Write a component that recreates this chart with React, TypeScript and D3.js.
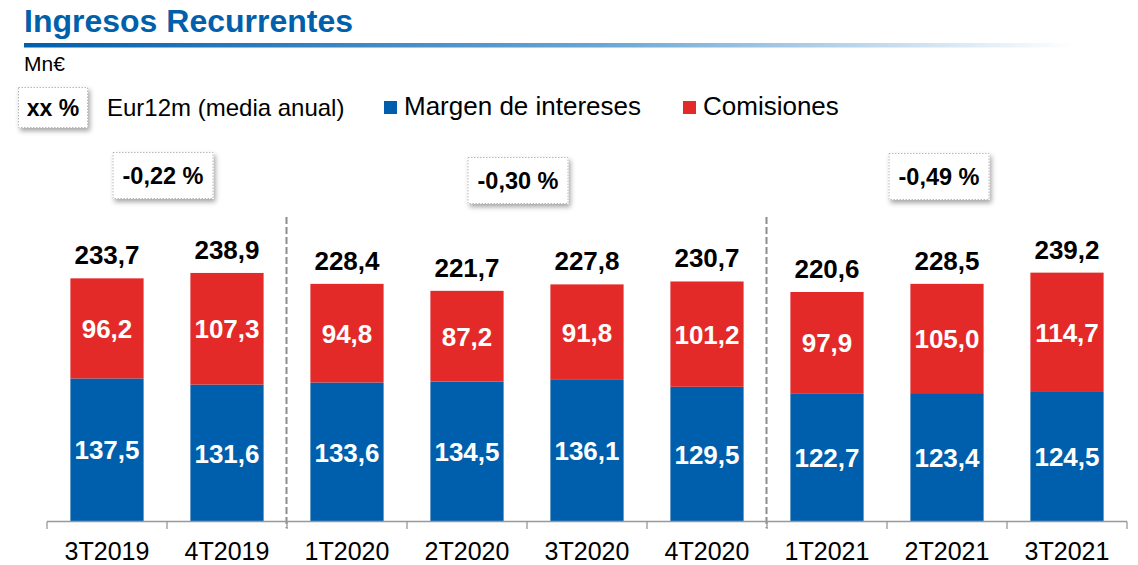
import React from "react";
import * as d3 from "d3";

const categories = ["3T2019", "4T2019", "1T2020", "2T2020", "3T2020", "4T2020", "1T2021", "2T2021", "3T2021"];
const margen = [137.5, 131.6, 133.6, 134.5, 136.1, 129.5, 122.7, 123.4, 124.5];
const comisiones = [96.2, 107.3, 94.8, 87.2, 91.8, 101.2, 97.9, 105.0, 114.7];
const totales = [233.7, 238.9, 228.4, 221.7, 227.8, 230.7, 220.6, 228.5, 239.2];
const euriborLabels = ["-0,22 %", "-0,30 %", "-0,49 %"];
const euriborFrom = ["3T2019", "1T2020", "1T2021"];
const euriborTo = ["4T2019", "4T2020", "3T2021"];
const separatorsBefore = ["1T2020", "1T2021"];

const W = 1138;
const H = 565;
const BLUE = "#005FAD";
const RED = "#E32A28";
const FONT = "'Liberation Sans', Arial, Helvetica, sans-serif";
const fmt = (v: number) => v.toFixed(1).replace(".", ",");

export default function App() {
  const x = d3.scaleBand<string>().domain(categories).range([47, 1127]).paddingInner(0.39).paddingOuter(0.195);
  const step = x.step();
  const y = d3.scaleLinear().domain([0, 250]).range([521.5, 521.5 - 260.1]);
  const edge = (c: string) => (x(c) as number) - (step - x.bandwidth()) / 2;
  const boxOffsetsX = [-4, -9, -8];
  const boxTops = [152, 157, 153];

  return (
    <svg width={W} height={H} style={{ position: "absolute", left: 0, top: 0, background: "#fff" }} fontFamily={FONT}>
      <defs>
        <linearGradient id="uline" x1="0" x2="1" y1="0" y2="0">
          <stop offset="0" stopColor="#005FAD" />
          <stop offset="0.55" stopColor="#6aa6d5" />
          <stop offset="1" stopColor="#ffffff" />
        </linearGradient>
        <filter id="shadow" x="-20%" y="-20%" width="150%" height="160%">
          <feDropShadow dx="2" dy="3" stdDeviation="2.5" floodColor="#000" floodOpacity="0.35" />
        </filter>
      </defs>

      <text x={24} y={32} fontSize={32} fontWeight="bold" fill="#0060AA">Ingresos Recurrentes</text>
      <rect x={24} y={43} width={1050} height={4.5} fill="url(#uline)" />
      <text x={24} y={71} fontSize={21} fill="#000">Mn€</text>

      {/* legend */}
      <rect x={18} y={87} width={70} height={41} fill="#fff" filter="url(#shadow)" />
      <rect x={18.5} y={87.5} width={69} height={40} fill="#fff" stroke="#b8b8b8" strokeDasharray="1.5,1.5" />
      <text x={53} y={116} fontSize={23} fontWeight="bold" textAnchor="middle">xx %</text>
      <text x={107} y={116} fontSize={24}>Eur12m (media anual)</text>
      <rect x={384} y={101} width={13} height={13} fill={BLUE} />
      <text x={404} y={115} fontSize={26}>Margen de intereses</text>
      <rect x={683} y={101} width={13} height={13} fill={RED} />
      <text x={703} y={115} fontSize={26}>Comisiones</text>

      {/* euribor boxes */}
      {euriborLabels.map((lab, i) => {
        const x0 = edge(euriborFrom[i]);
        const x1 = edge(euriborTo[i]) + step;
        const cx = (x0 + x1) / 2 + boxOffsetsX[i];
        const bw = 101;
        const bh = 47;
        const top = boxTops[i];
        return (
          <g key={lab}>
            <rect x={cx - bw / 2} y={top} width={bw} height={bh} fill="#fff" filter="url(#shadow)" />
            <rect x={cx - bw / 2 + 0.5} y={top + 0.5} width={bw - 1} height={bh - 1} fill="#fff" stroke="#b8b8b8" strokeDasharray="1.5,1.5" />
            <text x={cx} y={top + bh / 2 + 8.5} fontSize={23.5} fontWeight="bold" textAnchor="middle">{lab}</text>
          </g>
        );
      })}

      {/* separators */}
      {separatorsBefore.map((c) => (
        <line key={c} x1={edge(c) - 0.5} x2={edge(c) - 0.5} y1={217} y2={528} stroke="#8c8c8c" strokeWidth={2} strokeDasharray="7,3" />
      ))}

      {/* bars */}
      {categories.map((c, i) => {
        const bx = x(c) as number;
        const bw = x.bandwidth();
        const yb = y(margen[i]);
        const yt = y(margen[i] + comisiones[i]);
        return (
          <g key={c}>
            <rect x={bx} y={yb} width={bw} height={y(0) - yb} fill={BLUE} />
            <rect x={bx} y={yt} width={bw} height={yb - yt} fill={RED} />
            <text x={bx + bw / 2} y={(yb + y(0)) / 2 + 9.5} fontSize={26} fontWeight="bold" fill="#fff" textAnchor="middle">{fmt(margen[i])}</text>
            <text x={bx + bw / 2} y={(yt + yb) / 2 + 9.5} fontSize={26} fontWeight="bold" fill="#fff" textAnchor="middle">{fmt(comisiones[i])}</text>
            <text x={bx + bw / 2} y={y(totales[i]) - 14} fontSize={26} fontWeight="bold" fill="#000" textAnchor="middle">{fmt(totales[i])}</text>
          </g>
        );
      })}

      {/* axis */}
      <line x1={47} x2={1127} y1={521.5} y2={521.5} stroke="#999" strokeWidth={1.3} />
      {categories.map((c) => (
        <line key={"t" + c} x1={edge(c)} x2={edge(c)} y1={521.5} y2={529} stroke="#999" strokeWidth={1.3} />
      ))}
      <line x1={1127} x2={1127} y1={521.5} y2={529} stroke="#999" strokeWidth={1.3} />
      {categories.map((c) => (
        <text key={"l" + c} x={(x(c) as number) + x.bandwidth() / 2} y={559.5} fontSize={25} textAnchor="middle" fill="#000">{c}</text>
      ))}
    </svg>
  );
}
